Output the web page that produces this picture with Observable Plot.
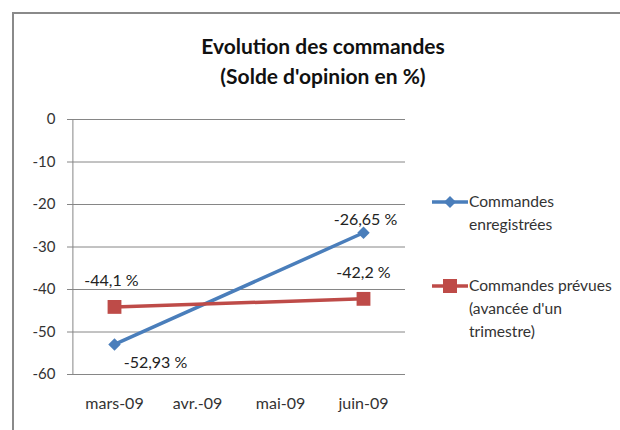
<!DOCTYPE html>
<html>
<head>
<meta charset="utf-8">
<script src="https://cdn.jsdelivr.net/npm/d3@7"></script>
<script src="https://cdn.jsdelivr.net/npm/@observablehq/plot@0.6"></script>
<style>
  body { margin: 0; background: #fff; }
  #wrap { position: relative; width: 620px; height: 430px; overflow: hidden; font-family: Lato, "Open Sans", sans-serif; }
  #border { position: absolute; left: 12px; top: 12px; width: 640px; height: 440px; border-top: 2px solid #8a8a8a; border-left: 2px solid #8a8a8a; }
  #title { position: absolute; left: 123px; width: 400px; top: 31px; text-align: center; font-weight: bold; font-size: 21px; line-height: 30px; color: #111; }
  .leg { position: absolute; font-size: 15.6px; line-height: 23px; color: #333; }
  svg.chart { position: absolute; left: 0; top: 0; }
</style>
</head>
<body>
<div id="wrap">
  <div id="border"></div>
  <div id="title">Evolution des commandes<br>(Solde d'opinion en %)</div>
</div>
<script>
const categories = ["mars-09", "avr.-09", "mai-09", "juin-09"];
const yTicks = [0, -10, -20, -30, -40, -50, -60];
const seriesNames = ["Commandes enregistrées", "Commandes prévues (avancée d'un trimestre)"];
const enregistreesMonths = ["mars-09", "juin-09"];
const enregistreesValues = [-52.93, -26.65];
const enregistreesLabels = ["-52,93 %", "-26,65 %"];
const prevuesMonths = ["mars-09", "juin-09"];
const prevuesValues = [-44.1, -42.2];
const prevuesLabels = ["-44,1 %", "-42,2 %"];
const colors = ["#4a7ebb", "#be4b48"];

const blue = enregistreesMonths.map((m, i) => ({month: m, value: enregistreesValues[i], label: enregistreesLabels[i]}));
const red = prevuesMonths.map((m, i) => ({month: m, value: prevuesValues[i], label: prevuesLabels[i]}));

const chart = Plot.plot({
  width: 620,
  height: 430,
  marginLeft: 72,
  marginRight: 215,
  marginTop: 119,
  marginBottom: 56,
  style: {fontFamily: "Lato, 'Open Sans', sans-serif", background: "transparent", overflow: "visible"},
  x: {type: "point", domain: categories, padding: 0.5, axis: null},
  y: {domain: [-60, 0], axis: null},
  marks: [
    Plot.ruleY(yTicks, {stroke: "#868686", strokeWidth: 1}),
    Plot.ruleX([categories[0]], {y1: -60, y2: 0, stroke: "#868686", strokeWidth: 1, dx: -41.6}),
    Plot.axisY({ticks: yTicks, tickSize: 5, tickPadding: 12, tickFormat: d => String(d), label: null, fontSize: 15, color: "#333", stroke: "#868686"}),
    Plot.axisX({tickSize: 0, tickPadding: 23, label: null, fontSize: 16, color: "#333"}),
    Plot.line(blue, {x: "month", y: "value", stroke: colors[0], strokeWidth: 3.5}),
    Plot.line(red, {x: "month", y: "value", stroke: colors[1], strokeWidth: 3.5}),
    Plot.dot(blue, {x: "month", y: "value", symbol: "diamond2", r: 5.6, fill: colors[0], stroke: "none"}),
    Plot.dot(red, {x: "month", y: "value", symbol: "square", r: 7.8, fill: colors[1], stroke: "none"}),
    Plot.text([blue[0]], {x: "month", y: "value", text: "label", dx: 41, dy: 18, fontSize: 16, fill: "#222"}),
    Plot.text([blue[1]], {x: "month", y: "value", text: "label", dx: 2, dy: -13, fontSize: 16, fill: "#222"}),
    Plot.text([red[0]], {x: "month", y: "value", text: "label", dx: -3, dy: -26, fontSize: 16, fill: "#222"}),
    Plot.text([red[1]], {x: "month", y: "value", text: "label", dx: 0, dy: -26, fontSize: 16, fill: "#222"})
  ]
});
chart.classList.add("chart");
const wrap = document.getElementById("wrap");
wrap.appendChild(chart);

// Legend
const legendItems = [
  {name: seriesNames[0], lines: ["Commandes", "enregistrées"], y: 202, color: colors[0], symbol: "diamond"},
  {name: seriesNames[1], lines: ["Commandes prévues", "(avancée d'un", "trimestre)"], y: 286, color: colors[1], symbol: "square"}
];
for (const it of legendItems) {
  const svgNS = "http://www.w3.org/2000/svg";
  const s = document.createElementNS(svgNS, "svg");
  s.setAttribute("width", 40); s.setAttribute("height", 20);
  s.style.position = "absolute"; s.style.left = "430px"; s.style.top = (it.y - 10) + "px";
  const ln = document.createElementNS(svgNS, "line");
  ln.setAttribute("x1", 2); ln.setAttribute("x2", 38); ln.setAttribute("y1", 10); ln.setAttribute("y2", 10);
  ln.setAttribute("stroke", it.color); ln.setAttribute("stroke-width", 3.5);
  s.appendChild(ln);
  const mk = document.createElementNS(svgNS, "path");
  if (it.symbol === "diamond") mk.setAttribute("d", "M20,4L26,10L20,16L14,10Z");
  else mk.setAttribute("d", "M13,3H27V17H13Z");
  mk.setAttribute("fill", it.color);
  s.appendChild(mk);
  wrap.appendChild(s);
  const d = document.createElement("div");
  d.className = "leg";
  d.style.left = "469px";
  d.style.top = (it.y - 12) + "px";
  d.innerHTML = it.lines.join("<br>");
  wrap.appendChild(d);
}
</script>
</body>
</html>
